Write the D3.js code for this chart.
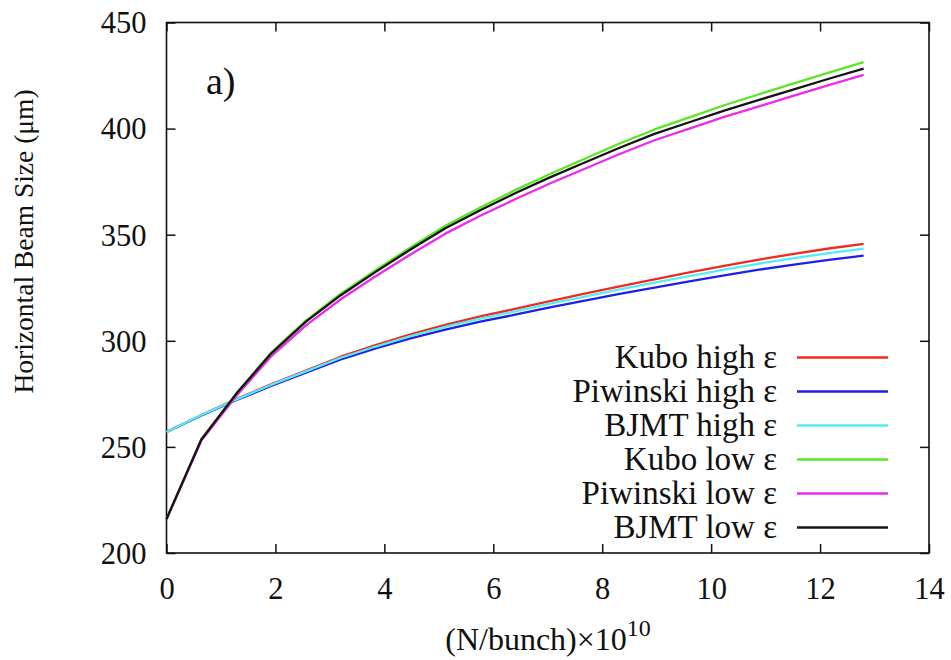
<!DOCTYPE html>
<html>
<head>
<meta charset="utf-8">
<script src="https://cdn.jsdelivr.net/npm/d3@7"></script>
<style>
  html, body { margin: 0; padding: 0; background: #fff; }
  svg text { font-family: "Liberation Serif", "Times New Roman", serif; fill: #111; }
</style>
</head>
<body>
<svg id="chart" width="951" height="660"></svg>
<script>
// Bunch population (×10^10)
const nPerBunch = [0, 0.64, 1.28, 1.92, 2.56, 3.2, 3.84, 4.48, 5.12, 5.76, 6.4,
                   7.04, 7.68, 8.32, 8.96, 9.6, 10.24, 10.88, 11.52, 12.16, 12.8];

// Horizontal beam size (µm) for each IBS model
const kuboHigh = [257, 265, 272.5, 279.5, 286, 292.5, 298, 303, 307.5, 311.5, 315,
                  318.7, 322.2, 325.7, 329, 332.2, 335.3, 338.3, 341, 343.5, 345.7];
const piwinskiHigh = [257, 264.8, 272, 278.7, 285, 291.2, 296.4, 301.1, 305.3, 309, 312.3,
                      315.7, 318.9, 322.1, 325.1, 328, 330.8, 333.5, 335.9, 338.1, 340.1];
const bjmtHigh = [257, 265, 272.3, 279.2, 285.6, 292, 297.3, 302.2, 306.6, 310.5, 313.9,
                  317.5, 320.8, 324.2, 327.4, 330.5, 333.5, 336.4, 339, 341.3, 343.4];
const kuboLow = [216, 253.6, 275.2, 294.4, 309.5, 322.2, 333.3, 344, 354.2, 362.8, 371,
                 378.6, 385.8, 393, 399.6, 405.3, 411, 416.2, 421.3, 426.4, 431.3];
const piwinskiLow = [216, 253, 274, 292.6, 307.3, 319.6, 330.4, 340.7, 350.5, 358.9, 366.7,
                     374.1, 381.1, 388, 394.5, 400, 405.5, 410.5, 415.5, 420.5, 425.3];
const bjmtLow = [216, 253.5, 275, 294, 309, 321.5, 332.5, 343, 353, 361.5, 369.5,
                 377, 384, 391, 397.5, 403, 408.5, 413.5, 418.5, 423.5, 428.3];

const seriesNames = ["Kubo high ε", "Piwinski high ε", "BJMT high ε",
                     "Kubo low ε", "Piwinski low ε", "BJMT low ε"];
const seriesValues = [kuboHigh, piwinskiHigh, bjmtHigh, kuboLow, piwinskiLow, bjmtLow];
const seriesColors = ["#f2291c", "#1f1fe6", "#52eef5", "#5ae624", "#ec2aec", "#151515"];

const xTicks = [0, 2, 4, 6, 8, 10, 12, 14];
const yTicks = [200, 250, 300, 350, 400, 450];

const FONT = "'Liberation Serif', 'Times New Roman', serif";

const svg = d3.select("#chart");
const plot = { left: 166.5, right: 929, top: 22.5, bottom: 553 };

const x = d3.scaleLinear().domain([0, 14]).range([plot.left, plot.right]);
const y = d3.scaleLinear().domain([200, 450]).range([plot.bottom, plot.top]);

const tickLen = 9;

// Axes with inward ticks on all four sides
const axisBottom = d3.axisBottom(x).tickValues(xTicks).tickSize(-tickLen).tickPadding(24);
const axisTop = d3.axisTop(x).tickValues(xTicks).tickSize(-tickLen).tickFormat("");
const axisLeft = d3.axisLeft(y).tickValues(yTicks).tickSize(-tickLen).tickPadding(20);
const axisRight = d3.axisRight(y).tickValues(yTicks).tickSize(-tickLen).tickFormat("");

function styleAxis(g) {
  g.attr("font-family", FONT);
  g.select(".domain").remove();
  g.selectAll(".tick line").attr("stroke", "#111").attr("stroke-width", 1.5);
  g.selectAll(".tick text").attr("font-size", 30.5)
    .style("font-family", FONT).attr("fill", "#111");
}

svg.append("g").attr("transform", `translate(0,${plot.bottom})`).call(axisBottom).call(styleAxis);
svg.append("g").attr("transform", `translate(0,${plot.top})`).call(axisTop).call(styleAxis);
svg.append("g").attr("transform", `translate(${plot.left},0)`).call(axisLeft).call(styleAxis)
  .selectAll(".tick text").attr("dy", "0.34em");
svg.append("g").attr("transform", `translate(${plot.right},0)`).call(axisRight).call(styleAxis);

// Frame
svg.append("rect")
  .attr("x", plot.left).attr("y", plot.top)
  .attr("width", plot.right - plot.left).attr("height", plot.bottom - plot.top)
  .attr("fill", "none").attr("stroke", "#111").attr("stroke-width", 1.6);

// Curves
const line = d3.line()
  .x((d, i) => x(nPerBunch[i]))
  .y(d => y(d))
  .curve(d3.curveLinear);

seriesValues.forEach((vals, k) => {
  svg.append("path")
    .datum(vals)
    .attr("d", line)
    .attr("fill", "none")
    .attr("stroke", seriesColors[k])
    .attr("stroke-width", 2.3)
    .attr("stroke-linejoin", "round");
});

// Legend
const legend = svg.append("g");
const legTextRight = 777, legLineX0 = 797, legLineX1 = 888, legY0 = 357.5, legStep = 34;
seriesNames.forEach((name, k) => {
  const yy = legY0 + k * legStep;
  legend.append("text")
    .attr("x", legTextRight).attr("y", yy)
    .attr("dy", "0.33em")
    .attr("text-anchor", "end")
    .attr("font-size", 33)
    .style("font-family", FONT)
    .text(name);
  legend.append("line")
    .attr("x1", legLineX0).attr("x2", legLineX1)
    .attr("y1", yy).attr("y2", yy)
    .attr("stroke", seriesColors[k]).attr("stroke-width", 2.3);
});

// Panel label
svg.append("text").attr("x", 206).attr("y", 94).attr("font-size", 38)
  .style("font-family", FONT).text("a)");

// Axis titles
svg.append("text")
  .attr("transform", `translate(33,241.5) rotate(-90)`)
  .attr("text-anchor", "middle")
  .attr("font-size", 27.5)
  .style("font-family", FONT)
  .text("Horizontal Beam Size (μm)");

const xTitle = svg.append("text")
  .attr("x", 548).attr("y", 650)
  .attr("text-anchor", "middle")
  .attr("font-size", 32)
  .style("font-family", FONT);
xTitle.append("tspan").text("(N/bunch)×10");
xTitle.append("tspan").attr("dy", -14).attr("font-size", 24).text("10");
</script>
</body>
</html>
